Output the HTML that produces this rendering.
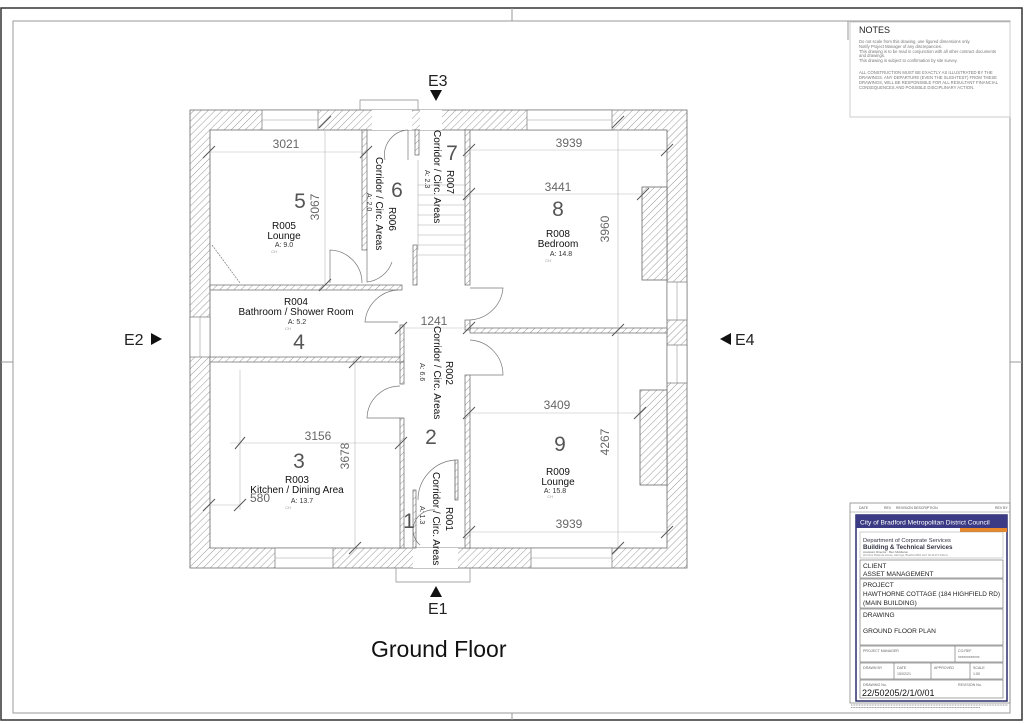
<!DOCTYPE html>
<html><head><meta charset="utf-8"><style>
html,body{margin:0;padding:0;background:#fff;}
svg{display:block;font-family:"Liberation Sans",sans-serif;}
</style></head><body>
<svg width="1024" height="724" viewBox="0 0 1024 724" xmlns="http://www.w3.org/2000/svg">
<defs>
<pattern id="h" width="5" height="5" patternUnits="userSpaceOnUse" patternTransform="rotate(45)">
<rect width="5" height="5" fill="#fff"/><line x1="0" y1="0" x2="0" y2="5" stroke="#999" stroke-width="1"/>
</pattern>
</defs>
<rect x="1" y="8" width="1021" height="712" fill="none" stroke="#333" stroke-width="1.5"/>
<rect x="13" y="21" width="997" height="692" fill="none" stroke="#999" stroke-width="1"/>
<line x1="512" y1="8" x2="512" y2="21" stroke="#999"/>
<line x1="512" y1="713" x2="512" y2="720" stroke="#999"/>
<line x1="1" y1="362" x2="13" y2="362" stroke="#999"/>
<line x1="1010" y1="362" x2="1022" y2="362" stroke="#999"/>
<line x1="848" y1="21" x2="848" y2="40" stroke="#999"/>

<rect x="850" y="22" width="160" height="95" fill="none" stroke="#ccc"/>
<text x="859" y="33" font-size="9" fill="#222">NOTES</text>
<g font-size="4.2" fill="#777">
<text x="859" y="43">Do not scale from this drawing, use figured dimensions only.</text>
<text x="859" y="48">Notify Project Manager of any discrepancies.</text>
<text x="859" y="53">This drawing is to be read in conjunction with all other contract documents</text>
<text x="859" y="57">and drawings.</text>
<text x="859" y="62">This drawing is subject to confirmation by site survey.</text>
<text x="859" y="74">ALL CONSTRUCTION MUST BE EXACTLY AS ILLUSTRATED BY THE</text>
<text x="859" y="79">DRAWINGS. ANY DEPARTURE (EVEN THE SLIGHTEST) FROM THESE</text>
<text x="859" y="84">DRAWINGS, WILL BE RESPONSIBLE FOR ALL RESULTANT FINANCIAL</text>
<text x="859" y="89">CONSEQUENCES AND POSSIBLE DISCIPLINARY ACTION.</text>
</g>

<rect x="850" y="503" width="160" height="200" fill="none" stroke="#888" stroke-width="0.8"/>
<line x1="850" y1="512" x2="1010" y2="512" stroke="#888" stroke-width="0.5"/>
<g font-size="3.5" fill="#555"><text x="859" y="509">DATE</text><text x="884" y="509">REV</text><text x="896" y="509">REVISION DESCRIPTION</text><text x="995" y="509">REV BY</text></g>
<rect x="856" y="515" width="151" height="186" fill="#fff" stroke="#2d2d6e" stroke-width="1.5"/>
<rect x="856" y="515" width="151" height="13" fill="#3a3a85"/>
<text x="860" y="524.5" font-size="6.6" fill="#fff">City of Bradford Metropolitan District Council</text>
<rect x="960" y="528" width="47" height="4" fill="#e8882a"/>
<rect x="860" y="532" width="143" height="26" fill="#fff" stroke="#888" stroke-width="0.4"/>
<text x="863" y="542" font-size="5.8" fill="#334">Department of Corporate Services</text>
<text x="863" y="549" font-size="6.3" font-weight="bold" fill="#334">Building &amp; Technical Services</text>
<text x="863" y="553" font-size="3" fill="#666">Assistant Director : Ben Middleton</text>
<text x="863" y="556" font-size="2.6" fill="#888">3rd Floor Britannia House, Hall Ings, Bradford BD1 1HX Tel 01274 432xxx</text>
<g stroke="#666" stroke-width="0.6" fill="none">
<rect x="860" y="560" width="143" height="18"/>
<rect x="860" y="579" width="143" height="29"/>
<rect x="860" y="609" width="143" height="36"/>
<rect x="860" y="646" width="143" height="16"/>
<line x1="955" y1="646" x2="955" y2="662"/>
<rect x="860" y="663" width="143" height="16"/>
<line x1="894" y1="663" x2="894" y2="679"/><line x1="931" y1="663" x2="931" y2="679"/><line x1="970" y1="663" x2="970" y2="679"/>
<rect x="860" y="680" width="143" height="18"/>
</g>
<g font-size="6.6" fill="#222">
<text x="863" y="568">CLIENT</text><text x="863" y="576">ASSET MANAGEMENT</text>
<text x="863" y="587">PROJECT</text><text x="863" y="596" font-size="6" textLength="137" lengthAdjust="spacingAndGlyphs">HAWTHORNE COTTAGE (184 HIGHFIELD RD)</text><text x="863" y="605">(MAIN BUILDING)</text>
<text x="863" y="617">DRAWING</text><text x="863" y="633">GROUND FLOOR PLAN</text>
</g>
<g font-size="3.6" fill="#666">
<text x="863" y="652">PROJECT MANAGER</text><text x="958" y="652">CO.REF</text><text x="958" y="658">xxxxxxxxxxxx</text>
<text x="863" y="669">DRAWN BY</text><text x="897" y="669">DATE</text><text x="897" y="675">15/02/21</text><text x="934" y="669">APPROVED</text><text x="973" y="669">SCALE</text><text x="973" y="675">1:50</text>
<text x="863" y="686">DRAWING No.</text><text x="958" y="686">REVISION No.</text>
</g>
<text x="862" y="696" font-size="9" fill="#111">22/50205/2/1/0/01</text>
<g stroke="#777" stroke-width="0.8" stroke-dasharray="1 0.6"><line x1="851" y1="705" x2="1008" y2="705"/><line x1="851" y1="707.5" x2="980" y2="707.5"/></g>

<path d="M190 110H687V568H190Z M210 130V548H667V130Z" fill="url(#h)" fill-rule="evenodd" stroke="#666" stroke-width="0.8"/>
<rect x="642" y="187" width="25" height="93" fill="url(#h)" stroke="#666" stroke-width="0.8"/>
<rect x="640" y="390" width="27" height="95" fill="url(#h)" stroke="#666" stroke-width="0.8"/>
<g fill="#fff" stroke="#777" stroke-width="0.7">
<rect x="262" y="110" width="56" height="20"/>
<rect x="527" y="110" width="85" height="20"/>
<rect x="275" y="548" width="58" height="20"/>
<rect x="531" y="548" width="81" height="20"/>
<rect x="190" y="317" width="20" height="40"/>
<rect x="667" y="282" width="20" height="38"/>
<rect x="667" y="345" width="20" height="38"/>
<rect x="420" y="110" width="22" height="20" stroke="none"/>
<rect x="372" y="110" width="40" height="20" stroke="none"/>
<rect x="413" y="548" width="45" height="20" stroke="none"/>
</g>
<g stroke="#999" stroke-width="0.6">
<line x1="262" y1="120" x2="318" y2="120"/><line x1="527" y1="120" x2="612" y2="120"/>
<line x1="275" y1="558" x2="333" y2="558"/><line x1="531" y1="558" x2="612" y2="558"/>
<line x1="200" y1="317" x2="200" y2="357"/><line x1="677" y1="282" x2="677" y2="320"/><line x1="677" y1="345" x2="677" y2="383"/>
</g>
<path d="M360 110V100H418V110" fill="none" stroke="#888" stroke-width="0.7"/>
<path d="M396 568V582H470V568" fill="none" stroke="#888" stroke-width="0.7"/>
<g fill="url(#h)" stroke="#666" stroke-width="0.7">
<rect x="210" y="285" width="192" height="5"/>
<rect x="210" y="357" width="192" height="5"/>
<rect x="470" y="328" width="197" height="5"/>
<rect x="362" y="130" width="5" height="120"/>
<rect x="415" y="130" width="4" height="25"/>
<rect x="465" y="130" width="5" height="155"/>
<rect x="465" y="320" width="5" height="10"/>
<rect x="465" y="375" width="5" height="173"/>
<rect x="400" y="325" width="4" height="37"/>
<rect x="400" y="362" width="4" height="22"/>
<rect x="400" y="418" width="4" height="130"/>
<rect x="413" y="490" width="3" height="58"/>
<rect x="455" y="460" width="3" height="40"/>
<rect x="413" y="245" width="4" height="40"/>
</g>
<g stroke="#aaa" stroke-width="0.6">
<line x1="418" y1="185" x2="465" y2="185"/><line x1="418" y1="195" x2="465" y2="195"/><line x1="418" y1="205" x2="465" y2="205"/><line x1="418" y1="215" x2="465" y2="215"/><line x1="418" y1="225" x2="465" y2="225"/><line x1="418" y1="235" x2="465" y2="235"/><line x1="418" y1="245" x2="465" y2="245"/><line x1="418" y1="255" x2="465" y2="255"/>
<line x1="418" y1="160" x2="418" y2="250"/>
</g>
<g fill="none" stroke="#777" stroke-width="0.7">
<path d="M330 283V250A33 33 0 0 1 362 283"/>
<path d="M385 160A25 25 0 0 1 408 130"/><line x1="408" y1="130" x2="408" y2="160"/>
<path d="M398 290A35 35 0 0 0 365 322H398"/>
<path d="M470 288H503A35 35 0 0 1 470 320"/>
<path d="M470 340A35 35 0 0 1 503 375H470"/>
<path d="M400 386A33 33 0 0 0 367 418H400"/>
<path d="M455 460V500M418 500A40 40 0 0 1 455 460"/>
<path d="M420 545A20 20 0 0 1 435 510"/>
<path d="M367 250V282A30 30 0 0 0 392 262"/>
<path d="M212 245L240 283" stroke-dasharray="2 1"/>
</g>
<g stroke="#bbb" stroke-width="0.6">
<line x1="210" y1="152" x2="362" y2="152"/><line x1="325" y1="130" x2="325" y2="285"/>
<line x1="470" y1="150" x2="667" y2="150"/><line x1="470" y1="194" x2="642" y2="194"/>
<line x1="618" y1="130" x2="618" y2="548"/>
<line x1="470" y1="413" x2="640" y2="413"/><line x1="470" y1="532" x2="667" y2="532"/>
<line x1="230" y1="443" x2="400" y2="443"/><line x1="355" y1="362" x2="355" y2="548"/>
<line x1="240" y1="370" x2="240" y2="510"/><line x1="210" y1="505" x2="240" y2="505"/>
<line x1="400" y1="328" x2="470" y2="328"/>
</g>
<g stroke="#555" stroke-width="1">
<line x1="203" y1="158" x2="215" y2="146"/><line x1="360" y1="158" x2="372" y2="146"/><line x1="319" y1="128" x2="331" y2="116"/>
<line x1="463" y1="156" x2="475" y2="144"/><line x1="661" y1="156" x2="673" y2="144"/><line x1="463" y1="200" x2="475" y2="188"/><line x1="637" y1="200" x2="649" y2="188"/>
<line x1="612" y1="336" x2="624" y2="324"/><line x1="463" y1="419" x2="475" y2="407"/><line x1="634" y1="419" x2="646" y2="407"/>
<line x1="463" y1="538" x2="475" y2="526"/><line x1="661" y1="538" x2="673" y2="526"/>
<line x1="235" y1="449" x2="245" y2="437"/><line x1="395" y1="449" x2="407" y2="437"/>
<line x1="203" y1="511" x2="215" y2="499"/><line x1="234" y1="511" x2="246" y2="499"/>
<line x1="349" y1="368" x2="361" y2="356"/><line x1="349" y1="554" x2="361" y2="542"/>
<line x1="395" y1="334" x2="407" y2="322"/><line x1="463" y1="334" x2="475" y2="322"/>
<line x1="319" y1="291" x2="331" y2="279"/><line x1="612" y1="554" x2="624" y2="542"/><line x1="612" y1="128" x2="624" y2="116"/>
</g>
<g font-size="12" fill="#666" text-anchor="middle">
<text x="286" y="148">3021</text>
<text x="569" y="147">3939</text>
<text x="558" y="191">3441</text>
<text x="557" y="409">3409</text>
<text x="569" y="528">3939</text>
<text x="318" y="440">3156</text>
<text x="260" y="502">580</text>
<text x="434" y="325">1241</text>
<text transform="translate(319 207) rotate(-90)">3067</text>
<text transform="translate(609 229) rotate(-90)">3960</text>
<text transform="translate(609 442) rotate(-90)">4267</text>
<text transform="translate(349 456) rotate(-90)">3678</text>
</g>
<g font-size="21" fill="#555" text-anchor="middle">
<text x="300" y="208">5</text><text x="558" y="216">8</text><text x="299" y="349">4</text>
<text x="299" y="468">3</text><text x="431" y="444">2</text><text x="560" y="451">9</text>
<text x="409" y="528">1</text><text x="397" y="197">6</text><text x="452" y="160">7</text>
</g>
<g font-size="10" fill="#111" text-anchor="middle">
<text x="284" y="229">R005</text><text x="284" y="239">Lounge</text>
<text x="558" y="237">R008</text><text x="558" y="247">Bedroom</text>
<text x="296" y="305">R004</text><text x="296" y="315">Bathroom / Shower Room</text>
<text x="297" y="483">R003</text><text x="297" y="493">Kitchen / Dining Area</text>
<text x="558" y="475">R009</text><text x="558" y="485">Lounge</text>
</g>
<g font-size="7" fill="#333" text-anchor="middle">
<text x="284" y="247">A: 9.0</text><text x="561" y="256">A: 14.8</text><text x="297" y="324">A: 5.2</text><text x="302" y="503">A: 13.7</text><text x="555" y="493">A: 15.8</text>
</g>
<g font-size="4" fill="#999" text-anchor="middle">
<text x="274" y="253">CH</text><text x="548" y="262">CH</text><text x="288" y="330">CH</text><text x="288" y="509">CH</text><text x="550" y="498">CH</text>
</g>
<g font-size="10" fill="#111">
<text transform="translate(446 361) rotate(90)">R002</text>
<text transform="translate(434 326) rotate(90)">Corridor / Circ. Areas</text>
<text transform="translate(446 507) rotate(90)">R001</text>
<text transform="translate(433 472) rotate(90)">Corridor / Circ. Areas</text>
<text transform="translate(389 207) rotate(90)">R006</text>
<text transform="translate(376 157) rotate(90)">Corridor / Circ. Areas</text>
<text transform="translate(447 170) rotate(90)">R007</text>
<text transform="translate(434 130) rotate(90)">Corridor / Circ. Areas</text>
</g>
<g font-size="7" fill="#333">
<text transform="translate(420 363) rotate(90)">A: 6.6</text>
<text transform="translate(420 506) rotate(90)">A: 1.3</text>
<text transform="translate(367 193) rotate(90)">A: 2.0</text>
<text transform="translate(425 170) rotate(90)">A: 2.3</text>
</g>
<g font-size="16" fill="#222">
<text x="428" y="86">E3</text>
<text x="428" y="614">E1</text>
<text x="124" y="345">E2</text>
<text x="735" y="345">E4</text>
</g>
<g fill="#111">
<polygon points="430,90 442,90 436,101"/>
<polygon points="430,597 442,597 436,586"/>
<polygon points="151,333 151,345 162,339"/>
<polygon points="731,333 731,345 720,339"/>
</g>
<text x="371" y="657" font-size="23" fill="#111">Ground Floor</text>
</svg>
</body></html>
